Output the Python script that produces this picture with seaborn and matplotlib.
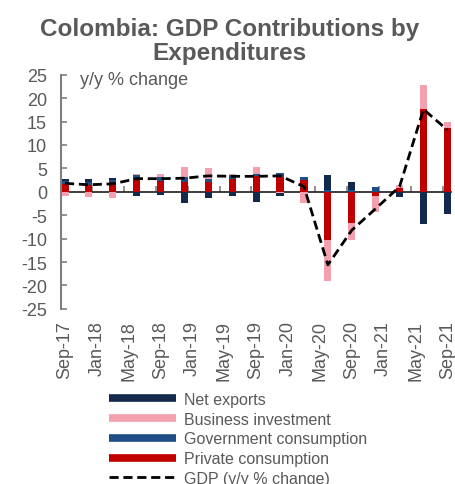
import numpy as np
import pandas as pd
import matplotlib
matplotlib.use("Agg")
import matplotlib.pyplot as plt
from matplotlib.lines import Line2D
import seaborn as sns

# Quarterly contributions to real GDP growth (percentage points, y/y)
quarters = ["Sep-17", "Dec-17", "Mar-18", "Jun-18", "Sep-18", "Dec-18", "Mar-19",
            "Jun-19", "Sep-19", "Dec-19", "Mar-20", "Jun-20", "Sep-20", "Dec-20",
            "Mar-21", "Jun-21", "Sep-21"]
private_consumption = [1.6, 1.4, 2.0, 2.6, 2.3, 2.0, 2.0, 2.7, 3.3, 3.1, 2.5,
                       -10.3, -6.6, -0.9, 0.85, 17.6, 13.7]
government_consumption = [0.6, 0.7, 0.6, 0.9, 0.8, 1.2, 0.7, 0.9, 0.6, 0.9, 0.6,
                          0.3, 0.3, 1.0, 0.0, 0.0, 0.0]
business_investment = [-0.9, -1.1, -1.3, 0.3, 0.7, 2.1, 2.3, 0.2, 1.3, -0.3, -2.3,
                       -8.7, -3.7, -3.5, 0.7, 5.2, 1.1]
net_exports = [0.5, 0.6, 0.4, -0.9, -0.7, -2.3, -1.4, -1.0, -2.1, -0.5, 0.0,
               3.2, 1.8, 0.0, -1.1, -6.9, -4.8]
gdp_growth = [1.8, 1.5, 1.7, 2.8, 2.8, 2.9, 3.4, 3.3, 3.3, 3.4, 1.1,
              -15.6, -8.2, -3.6, 1.1, 17.6, 13.2]

tick_labels = ["Sep-17", "Jan-18", "May-18", "Sep-18", "Jan-19", "May-19", "Sep-19",
               "Jan-20", "May-20", "Sep-20", "Jan-21", "May-21", "Sep-21"]

series_names = ["Private consumption", "Government consumption",
                "Business investment", "Net exports"]
series_values = [private_consumption, government_consumption,
                 business_investment, net_exports]
colors = {"Private consumption": "#C00000",
          "Government consumption": "#1F4E86",
          "Business investment": "#F4A0AE",
          "Net exports": "#142A4C"}

# Month offsets from the first quarter, so bars sit on a time scale
periods = [pd.Period(d, freq="M") for d in pd.to_datetime(quarters, format="%b-%y")]
start = periods[0]
months = np.array([(p - start).n for p in periods])
tick_pos = np.array([(pd.Period(d, freq="M") - start).n
                     for d in pd.to_datetime(tick_labels, format="%b-%y")])

text_gray = "#595959"
axis_gray = "#7F7F7F"

sns.set_theme(style="white")
plt.rcParams["font.family"] = ["Liberation Sans", "DejaVu Sans"]
plt.rcParams["axes.unicode_minus"] = False

fig = plt.figure(figsize=(4.55, 4.85), dpi=100)
ax = fig.add_axes([0.134, 0.361, 0.858, 0.483])

# Stack positives upward and negatives downward from zero
pos_base = np.zeros(len(quarters))
neg_base = np.zeros(len(quarters))
for name, vals in zip(series_names, series_values):
    vals = np.asarray(vals, dtype=float)
    bottom = np.where(vals >= 0, pos_base, neg_base)
    df = pd.DataFrame({"month": months, "value": vals})
    sns.barplot(data=df, x="month", y="value", native_scale=True, width=0.3,
                color=colors[name], saturation=1, errorbar=None, bottom=bottom,
                linewidth=0, ax=ax)
    pos_base = pos_base + np.clip(vals, 0, None)
    neg_base = neg_base + np.clip(vals, None, 0)

gdp_df = pd.DataFrame({"month": months, "gdp": gdp_growth})
sns.lineplot(data=gdp_df, x="month", y="gdp", color="black", linewidth=2.0,
             ax=ax, zorder=5)
ax.lines[-1].set_dashes((3.3, 1.7))

ax.set_xlim(-0.5, months[-1] + 0.5)
ax.set_ylim(-25, 25)
ax.set_yticks(np.arange(-25, 26, 5))
ax.set_xticks(tick_pos)
ax.set_xticklabels(tick_labels, rotation=90)
ax.set_xlabel("")
ax.set_ylabel("")
ax.tick_params(axis="x", length=0, labelsize=13, labelcolor=text_gray, pad=8)
ax.tick_params(axis="y", direction="in", length=4, width=1.2, color=axis_gray,
               labelsize=13, labelcolor=text_gray, pad=10, left=True)
for side in ["top", "right", "bottom"]:
    ax.spines[side].set_visible(False)
ax.spines["left"].set_color(axis_gray)
ax.spines["left"].set_linewidth(1.5)

# Zero line carrying the date tick marks
zero_ax = ax.secondary_xaxis(0.5)
zero_ax.set_xticks(tick_pos - 0.6)
zero_ax.set_xticklabels([])
zero_ax.tick_params(axis="x", direction="out", length=4, width=1.2, color=axis_gray)
zero_ax.spines["bottom"].set_color(axis_gray)
zero_ax.spines["bottom"].set_linewidth(1.8)
zero_ax.spines["bottom"].set_zorder(3)

ax.text(0.05, 0.98, "y/y % change", transform=ax.transAxes, ha="left",
        va="center", fontsize=13, color=text_gray)

fig.suptitle("Colombia: GDP Contributions by\nExpenditures", x=0.505, y=0.962,
             fontsize=17.5, fontweight="bold", color=text_gray, linespacing=1.05)

bar_handle = dict(linewidth=5.5, solid_capstyle="butt")
handles = [Line2D([], [], color=colors["Net exports"], **bar_handle),
           Line2D([], [], color=colors["Business investment"], **bar_handle),
           Line2D([], [], color=colors["Government consumption"], **bar_handle),
           Line2D([], [], color=colors["Private consumption"], **bar_handle),
           Line2D([], [], color="black", linewidth=2.0, dashes=(3.3, 1.7))]
labels = ["Net exports", "Business investment", "Government consumption",
          "Private consumption", "GDP (y/y % change)"]
leg = fig.legend(handles, labels, loc="upper left", bbox_to_anchor=(0.24, 0.19),
                 frameon=False, fontsize=11.5, handlelength=4.2, handletextpad=0.5,
                 labelspacing=0.3, borderaxespad=0, borderpad=0)
for t in leg.get_texts():
    t.set_color(text_gray)

fig.savefig("out.png", dpi=100)
